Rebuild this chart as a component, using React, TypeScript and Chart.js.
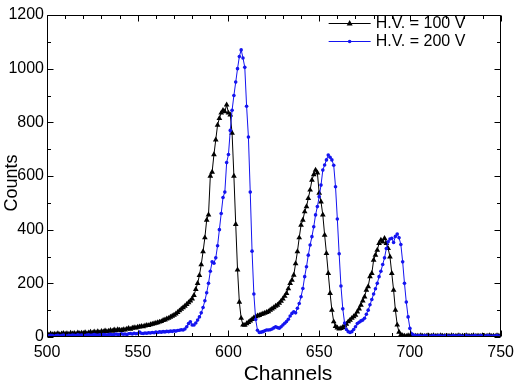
import React, { useEffect, useRef } from "react";
import { Chart, registerables } from "chart.js";

Chart.register(...registerables);

// ---- data ----
const CH_START = 500; // first channel; one value per channel
const X_TICKS = [500, 550, 600, 650, 700, 750];
const Y_TICKS = [0, 200, 400, 600, 800, 1000, 1200];
const SERIES_NAMES = ["H.V. = 100 V", "H.V. = 200 V"];
const X_TITLE = "Channels";
const Y_TITLE = "Counts";

const HV100 = [
  10, 8, 12, 9, 11, 10, 13, 9, 12, 14,
  11, 13, 10, 15, 12, 14, 11, 16, 13, 15,
  14, 17, 13, 16, 18, 15, 19, 17, 20, 16,
  21, 19, 23, 20, 22, 25, 22, 27, 24, 28,
  26, 25, 28, 27, 30, 32, 29, 33, 35, 34,
  37, 38, 40, 39, 42, 44, 43, 46, 48, 50,
  52, 54, 56, 58, 62, 64, 68, 70, 74, 78,
  82, 86, 92, 98, 104, 110, 115, 122, 128, 135,
  142, 155, 178, 200, 230, 270, 318, 370, 436, 455,
  600, 615, 680, 735, 790, 815, 835, 845, 840, 865,
  835, 828, 760, 600, 420, 250, 130, 70, 45, 44,
  50, 55, 60, 66, 72, 76, 79, 81, 84, 86,
  89, 92, 95, 100, 105, 110, 115, 119, 126, 134,
  142, 152, 163, 180, 200, 212, 231, 274, 318, 370,
  417, 436, 467, 486, 517, 548, 585, 605, 622, 612,
  536, 504, 455, 380, 312, 237, 163, 100, 57, 40,
  34, 30, 32, 36, 42, 48, 57, 63, 70, 76,
  82, 94, 105, 119, 135, 150, 175, 188, 225, 237,
  287, 305, 324, 349, 361, 355, 368, 349, 330, 299,
  237, 175, 100, 45, 18, 8, 5, 4, 3, 5,
  4, 5, 3, 4, 4, 3, 5, 4, 3, 4,
  5, 3, 4, 5, 3, 4, 3, 5, 4, 3,
  4, 4, 3, 5, 4, 3, 4, 5, 3, 4,
  3, 5, 4, 3, 4, 5, 3, 4, 4, 3,
  5, 4, 3, 4, 5, 3, 4, 3, 5, 4,
  3,
];

const HV200 = [
  5, 4, 6, 5, 3, 5, 6, 4, 5, 7,
  5, 4, 6, 5, 7, 6, 5, 8, 6, 7,
  6, 5, 7, 8, 6, 7, 9, 7, 6, 8,
  7, 9, 8, 7, 9, 10, 8, 9, 11, 9,
  10, 12, 10, 11, 9, 12, 13, 11, 14, 12,
  13, 18, 14, 13, 15, 14, 16, 15, 17, 16,
  18, 17, 19, 18, 20, 19, 21, 20, 22, 21,
  23, 22, 24, 25, 27, 26, 30, 38, 50, 57,
  45, 45, 52, 63, 75, 90, 110, 135, 165, 200,
  245, 280, 275, 295, 340, 400, 460, 520, 540, 650,
  680, 770, 845, 900, 950, 1000, 1045, 1070, 1040, 1005,
  860, 745, 540, 320, 160, 65, 25, 17, 18, 20,
  23, 26, 26, 27, 30, 34, 38, 35, 33, 38,
  45, 51, 58, 66, 78, 88, 94, 90, 107, 125,
  150, 181, 225, 262, 305, 343, 374, 411, 455, 486,
  523, 566, 622, 641, 660, 678, 670, 660, 640, 560,
  440, 310, 190, 105, 52, 28, 20, 17, 20, 28,
  38, 50, 55, 60, 63, 70, 85, 100, 120, 140,
  160, 180, 200, 225, 245, 270, 295, 330, 355, 365,
  368, 352, 375, 384, 370, 345, 280, 200, 130, 75,
  32, 12, 7, 5, 4, 5, 4, 3, 5, 4,
  4, 3, 4, 5, 3, 4, 5, 4, 3, 4,
  5, 4, 3, 4, 5, 4, 3, 5, 4, 3,
  4, 5, 4, 3, 4, 4, 5, 3, 4, 5,
  4, 3, 4, 5, 4, 3, 4, 4, 5, 3,
  4,
];

const BLACK = "#000000";
const BLUE = "#1414f0";
const FONT = "'Liberation Sans', Arial, Helvetica, sans-serif";

const toPoints = (arr: number[]) => arr.map((v, i) => ({ x: CH_START + i, y: v }));

const frameAndLegend = {
  id: "frameAndLegend",
  afterDraw(chart: any) {
    const { ctx, chartArea: a, scales } = chart;
    const xs = scales.x;
    const ys = scales.y;
    ctx.save();
    ctx.strokeStyle = "#000";
    ctx.lineWidth = 1;
    const L = Math.round(a.left) + 0.5;
    const R = Math.round(a.right) - 0.5;
    const T = Math.round(a.top) + 0.5;
    const B = Math.round(a.bottom) - 0.5;
    ctx.beginPath();
    ctx.rect(L, T, R - L, B - T);
    ctx.stroke();
    ctx.beginPath();
    for (let v = X_TICKS[0]; v <= X_TICKS[X_TICKS.length - 1]; v += 10) {
      const major = X_TICKS.includes(v);
      const len = major ? 6 : 3.5;
      const px = Math.round(xs.getPixelForValue(v)) + 0.5;
      ctx.moveTo(px, B);
      ctx.lineTo(px, B - len);
      ctx.moveTo(px, T);
      ctx.lineTo(px, T + len);
    }
    for (let v = Y_TICKS[0]; v <= Y_TICKS[Y_TICKS.length - 1]; v += 100) {
      const major = Y_TICKS.includes(v);
      const len = major ? 6 : 3.5;
      const py = Math.round(ys.getPixelForValue(v)) + 0.5;
      ctx.moveTo(L, py);
      ctx.lineTo(L + len, py);
      ctx.moveTo(R, py);
      ctx.lineTo(R - len, py);
    }
    ctx.stroke();

    // axis titles
    ctx.fillStyle = "#000";
    ctx.textAlign = "center";
    ctx.textBaseline = "alphabetic";
    ctx.font = `21px ${FONT}`;
    ctx.fillText(X_TITLE, 288, 380);
    ctx.save();
    ctx.translate(17, 183);
    ctx.rotate(-Math.PI / 2);
    ctx.font = `18px ${FONT}`;
    ctx.fillText(Y_TITLE, 0, 0);
    ctx.restore();

    // legend inside top-right
    const rows = [
      { name: SERIES_NAMES[0], color: BLACK, tri: true },
      { name: SERIES_NAMES[1], color: BLUE, tri: false },
    ];
    const lx0 = a.right - 172;
    const lx1 = lx0 + 42;
    rows.forEach((r, i) => {
      const yy = a.top + 8 + i * 18;
      ctx.strokeStyle = r.color;
      ctx.fillStyle = r.color;
      ctx.lineWidth = 1;
      ctx.beginPath();
      ctx.moveTo(lx0, yy + 0.5);
      ctx.lineTo(lx1, yy + 0.5);
      ctx.stroke();
      const cx = (lx0 + lx1) / 2;
      ctx.beginPath();
      if (r.tri) {
        ctx.moveTo(cx, yy - 3);
        ctx.lineTo(cx + 3, yy + 2.5);
        ctx.lineTo(cx - 3, yy + 2.5);
        ctx.closePath();
      } else {
        ctx.arc(cx, yy + 0.5, 1.8, 0, Math.PI * 2);
      }
      ctx.fill();
      ctx.fillStyle = "#000";
      ctx.font = `16px ${FONT}`;
      ctx.textBaseline = "middle";
      ctx.textAlign = "left";
      ctx.fillText(r.name, lx1 + 5, yy + 1);
    });
    ctx.restore();
  },
};

export default function App() {
  const ref = useRef<HTMLCanvasElement | null>(null);
  useEffect(() => {
    if (!ref.current) return;
    const chart = new Chart(ref.current, {
      type: "line",
      data: {
        datasets: [
          {
            label: SERIES_NAMES[1],
            data: toPoints(HV200),
            borderColor: BLUE,
            backgroundColor: BLUE,
            borderWidth: 1,
            pointStyle: "circle",
            pointRadius: 1.8,
            pointBorderWidth: 0,
            pointBackgroundColor: BLUE,
            tension: 0,
            order: 0,
          },
          {
            label: SERIES_NAMES[0],
            data: toPoints(HV100),
            borderColor: BLACK,
            backgroundColor: BLACK,
            borderWidth: 1,
            pointStyle: "triangle",
            pointRadius: 3.3,
            pointBorderWidth: 0,
            pointBackgroundColor: BLACK,
            tension: 0,
            order: 1,
          },
        ],
      },
      options: {
        responsive: false,
        animation: false,
        devicePixelRatio: 1,
        layout: { padding: { top: 15, right: 15, left: 0, bottom: 0 } },
        plugins: { legend: { display: false }, tooltip: { enabled: false } },
        scales: {
          x: {
            type: "linear",
            min: 500,
            max: 750,
            afterFit: (s: any) => {
              s.height = 47;
            },
            afterBuildTicks: (s: any) => {
              s.ticks = X_TICKS.map((v) => ({ value: v }));
            },
            ticks: {
              color: "#000",
              font: { family: FONT, size: 16 },
              padding: 6,
              maxRotation: 0,
              autoSkip: false,
              callback: (v: any) => String(v),
            },
            grid: { display: false, drawTicks: false },
            border: { display: false },
            title: { display: false },
          },
          y: {
            type: "linear",
            min: 0,
            max: 1200,
            afterFit: (s: any) => {
              s.width = 47;
            },
            afterBuildTicks: (s: any) => {
              s.ticks = Y_TICKS.map((v) => ({ value: v }));
            },
            ticks: {
              color: "#000",
              font: { family: FONT, size: 16 },
              padding: 3,
              autoSkip: false,
              callback: (v: any) => String(v),
            },
            grid: { display: false, drawTicks: false },
            border: { display: false },
            title: { display: false },
          },
        },
      },
      plugins: [frameAndLegend],
    } as any);
    return () => chart.destroy();
  }, []);
  return (
    <div style={{ position: "absolute", left: 0, top: 0, width: 520, height: 384, background: "#fff" }}>
      <canvas ref={ref} width={520} height={384} style={{ display: "block", width: 520, height: 384 }} />
    </div>
  );
}
